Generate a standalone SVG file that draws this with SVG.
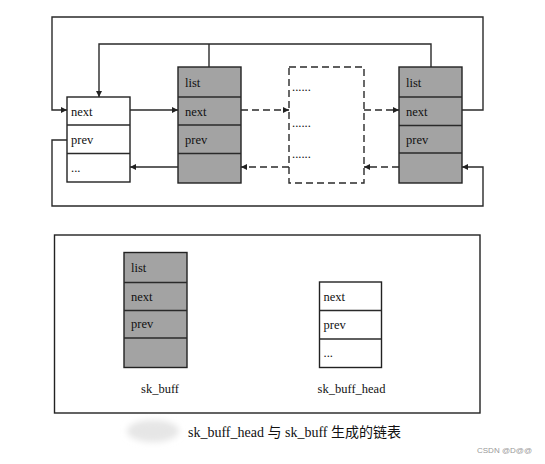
<svg xmlns="http://www.w3.org/2000/svg" width="545" height="464" viewBox="0 0 545 464">
<defs>
<marker id="ah" viewBox="0 0 10 10" refX="10" refY="5" markerWidth="9" markerHeight="6" markerUnits="userSpaceOnUse" orient="auto">
<path d="M0,0 L10,5 L0,10 Z" fill="#222"/>
</marker>
<filter id="blur" x="-30%" y="-50%" width="160%" height="200%"><feGaussianBlur stdDeviation="3"/></filter>
</defs>
<style>
.t{font-family:"Liberation Serif","Times New Roman",serif;font-size:12.5px;fill:#111}
.g{fill:#a3a3a3;stroke:#222;stroke-width:1.4}
.w{fill:#fff;stroke:#222;stroke-width:1.4}
.ln{fill:none;stroke:#2a2a2a;stroke-width:1.4}
.dl{fill:none;stroke:#2a2a2a;stroke-width:1.4;stroke-dasharray:7,4}
.cap{font-family:"Liberation Serif","Noto Sans CJK SC",serif;font-size:14px;fill:#111}
</style>
<rect width="545" height="464" fill="#fff"/>

<g id="head">
<rect class="w" x="67" y="97" width="63" height="85"/>
<line class="ln" x1="67" y1="125" x2="130" y2="125"/>
<line class="ln" x1="67" y1="153.5" x2="130" y2="153.5"/>
<text class="t" x="71" y="116">next</text>
<text class="t" x="71" y="144">prev</text>
<text class="t" x="71" y="172">...</text>
</g>

<g id="skb1">
<rect class="g" x="178" y="67" width="63" height="116"/>
<line class="ln" x1="178" y1="97" x2="241" y2="97"/>
<line class="ln" x1="178" y1="125" x2="241" y2="125"/>
<line class="ln" x1="178" y1="153.5" x2="241" y2="153.5"/>
<text class="t" x="185" y="87">list</text>
<text class="t" x="185" y="116">next</text>
<text class="t" x="185" y="144">prev</text>
</g>

<g id="dashed">
<rect class="dl" x="289" y="67" width="75" height="116"/>
<text class="t" x="292" y="91">......</text>
<text class="t" x="292" y="127">......</text>
<text class="t" x="292" y="158">......</text>
</g>

<g id="skb3">
<rect class="g" x="399" y="67" width="63" height="116"/>
<line class="ln" x1="399" y1="97" x2="462" y2="97"/>
<line class="ln" x1="399" y1="125.5" x2="462" y2="125.5"/>
<line class="ln" x1="399" y1="153" x2="462" y2="153"/>
<text class="t" x="406" y="87">list</text>
<text class="t" x="406" y="116">next</text>
<text class="t" x="406" y="144">prev</text>
</g>

<g id="connectors">
<polyline class="ln" points="462,110 483,110 483,17 52,17 52,110 67,110" marker-end="url(#ah)"/>
<polyline class="ln" points="431,67 431,44 99,44 99,97" marker-end="url(#ah)"/>
<line class="ln" x1="209" y1="67" x2="209" y2="44"/>
<line class="ln" x1="130" y1="110" x2="178" y2="110" marker-end="url(#ah)"/>
<line class="dl" x1="241" y1="110" x2="289" y2="110" marker-end="url(#ah)"/>
<line class="dl" x1="364" y1="110" x2="399" y2="110" marker-end="url(#ah)"/>
<line class="dl" x1="399" y1="167" x2="364" y2="167" marker-end="url(#ah)"/>
<line class="dl" x1="289" y1="167" x2="241" y2="167" marker-end="url(#ah)"/>
<line class="ln" x1="178" y1="167" x2="130" y2="167" marker-end="url(#ah)"/>
<polyline class="ln" points="67,140 52,140 52,206 483,206 483,167 462,167" marker-end="url(#ah)"/>
</g>

<g id="legend">
<rect x="54.5" y="235" width="425.5" height="178" fill="none" stroke="#222" stroke-width="1.4"/>
<g id="legend-skb">
<rect class="g" x="124" y="252.5" width="63" height="115"/>
<line class="ln" x1="124" y1="282.5" x2="187" y2="282.5"/>
<line class="ln" x1="124" y1="310.5" x2="187" y2="310.5"/>
<line class="ln" x1="124" y1="338" x2="187" y2="338"/>
<text class="t" x="131" y="272">list</text>
<text class="t" x="131" y="301">next</text>
<text class="t" x="131" y="328">prev</text>
<text class="t" x="160" y="393" text-anchor="middle">sk_buff</text>
</g>
<g id="legend-head">
<rect class="w" x="319.5" y="282" width="62" height="85.5"/>
<line class="ln" x1="319.5" y1="310.5" x2="381.5" y2="310.5"/>
<line class="ln" x1="319.5" y1="339" x2="381.5" y2="339"/>
<text class="t" x="323.5" y="301">next</text>
<text class="t" x="323.5" y="329">prev</text>
<text class="t" x="323.5" y="357">...</text>
<text class="t" x="351.5" y="393" text-anchor="middle">sk_buff_head</text>
</g>
</g>

<ellipse cx="153" cy="431" rx="26" ry="11" fill="#e6e6e6" filter="url(#blur)"/>
<text class="cap" x="188" y="437">sk_buff_head 与 sk_buff 生成的链表</text>
<text x="477" y="453" font-family="Liberation Sans,Arial,sans-serif" font-size="8" fill="#999">CSDN @D@@</text>
</svg>
